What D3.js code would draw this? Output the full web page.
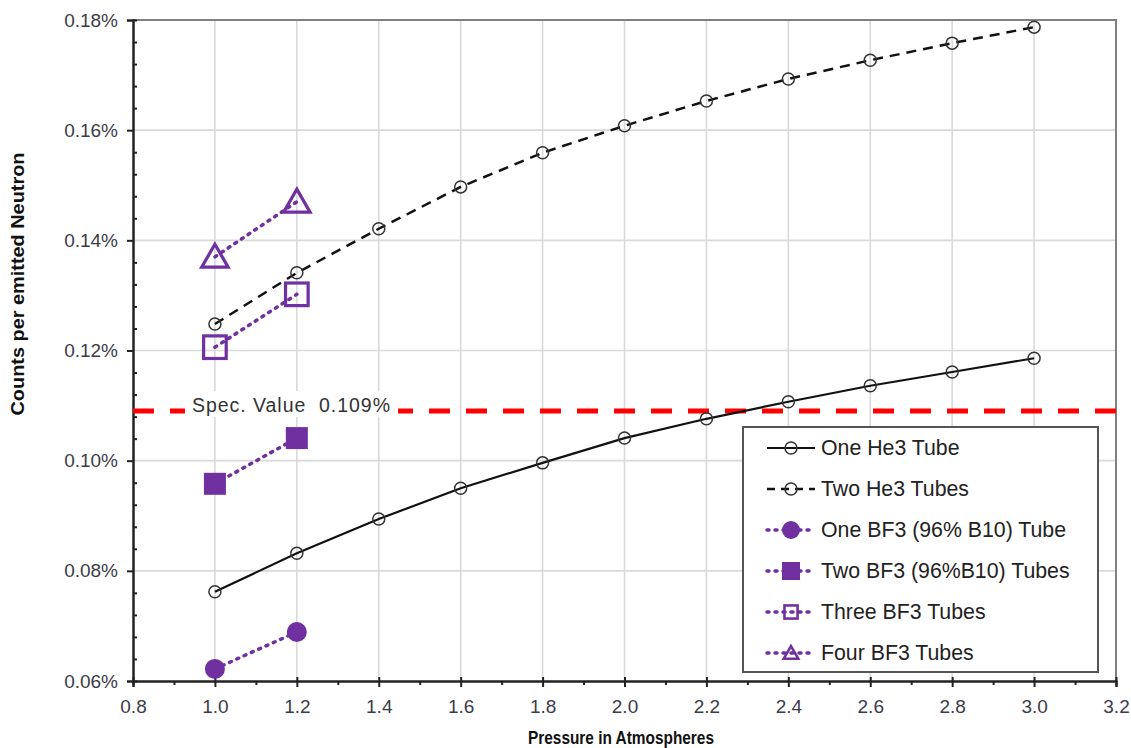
<!DOCTYPE html>
<html>
<head>
<meta charset="utf-8">
<script src="https://cdn.jsdelivr.net/npm/d3@7"></script>
<style>
  html, body { margin: 0; padding: 0; background: #fff; }
  svg { display: block; font-family: "Liberation Sans", Arial, sans-serif; }
</style>
</head>
<body>
<svg id="chart" width="1131" height="748"></svg>
<script>
// Pressure (atm) at which each detector configuration was evaluated
const pressureHe3 = [1.0, 1.2, 1.4, 1.6, 1.8, 2.0, 2.2, 2.4, 2.6, 2.8, 3.0];
const pressureBF3 = [1.0, 1.2];

// Counts per emitted neutron, in percent
const oneHe3  = [0.0762, 0.0832, 0.0894, 0.0950, 0.0996, 0.1041, 0.1076, 0.1107, 0.1136, 0.1161, 0.1186];
const twoHe3  = [0.1248, 0.1341, 0.1421, 0.1497, 0.1559, 0.1608, 0.1653, 0.1693, 0.1727, 0.1758, 0.1787];
const oneBF3  = [0.0622, 0.0689];
const twoBF3  = [0.0958, 0.1041];
const threeBF3 = [0.1206, 0.1302];
const fourBF3 = [0.1370, 0.1470];

const specValue = 0.109;

const xTicks = [0.8, 1.0, 1.2, 1.4, 1.6, 1.8, 2.0, 2.2, 2.4, 2.6, 2.8, 3.0, 3.2];
const yTicks = [0.06, 0.08, 0.10, 0.12, 0.14, 0.16, 0.18];

const legendLabels = [
  "One He3 Tube",
  "Two He3 Tubes",
  "One BF3 (96% B10) Tube",
  "Two BF3 (96%B10) Tubes",
  "Three BF3 Tubes",
  "Four BF3 Tubes"
];

const purple = "#7030a0";
const svg = d3.select("#chart");
const plotL = 133, plotR = 1116, plotT = 20, plotB = 681;

const x = d3.scaleLinear().domain([0.8, 3.2]).range([plotL, plotR]);
const y = d3.scaleLinear().domain([0.06, 0.18]).range([plotB, plotT]);

// grid
const grid = svg.append("g").attr("stroke", "#d9d9d9").attr("stroke-width", 1.6);
grid.selectAll("line.v").data(xTicks.slice(1, -1)).join("line")
  .attr("x1", d => x(d)).attr("x2", d => x(d)).attr("y1", plotT).attr("y2", plotB);
grid.selectAll("line.h").data(yTicks.slice(1, -1)).join("line")
  .attr("x1", plotL).attr("x2", plotR).attr("y1", d => y(d)).attr("y2", d => y(d));

// frame: top and right edges
svg.append("path")
  .attr("d", `M${plotL},${plotT}H${plotR}V${plotB}`)
  .attr("fill", "none").attr("stroke", "#808080").attr("stroke-width", 2);

// axes
const fmtX = d3.format(".1f");
const xAxis = d3.axisBottom(x).tickValues(xTicks).tickSize(6).tickFormat(fmtX).tickPadding(13);
const xMinor = d3.axisBottom(x).tickValues(d3.range(0.9, 3.2, 0.2)).tickSize(4).tickFormat("");
const yAxis = d3.axisLeft(y).tickValues(yTicks).tickSize(6).tickFormat(d => d.toFixed(2) + "%").tickPadding(9);
const yMinorVals = [];
for (let i = 0; i < yTicks.length - 1; i++) for (let k = 1; k < 5; k++) yMinorVals.push(yTicks[i] + k * 0.004);
const yMinor = d3.axisRight(y).tickValues(yMinorVals).tickSize(4).tickFormat("");

function styleAxis(g) {
  g.select(".domain").attr("stroke", "#222").attr("stroke-width", 2);
  g.selectAll(".tick line").attr("stroke", "#222").attr("stroke-width", 2);
  g.selectAll("text").attr("fill", "#3c3c48").attr("font-size", 19).attr("font-family", "Liberation Sans, Arial, sans-serif");
}
svg.append("g").attr("transform", `translate(0,${plotB})`).call(xMinor).call(styleAxis);
svg.append("g").attr("transform", `translate(0,${plotB})`).call(xAxis).call(styleAxis)
  .selectAll(".tick line").attr("y1", -4).attr("y2", 6);
svg.append("g").attr("transform", `translate(${plotL},0)`).call(yMinor).call(styleAxis);
svg.append("g").attr("transform", `translate(${plotL},0)`).call(yAxis).call(styleAxis);

// axis titles
svg.append("text").attr("x", 621).attr("y", 744)
  .attr("text-anchor", "middle").attr("font-weight", "bold").attr("font-size", 18).attr("fill", "#111")
  .attr("textLength", 186).attr("lengthAdjust", "spacingAndGlyphs")
  .text("Pressure in Atmospheres");
svg.append("text").attr("transform", `translate(24,284) rotate(-90)`)
  .attr("text-anchor", "middle").attr("font-weight", "bold").attr("font-size", 19).attr("fill", "#111")
  .attr("textLength", 263).attr("lengthAdjust", "spacingAndGlyphs")
  .text("Counts per emitted Neutron");

// spec limit line
svg.append("line")
  .attr("x1", plotL).attr("x2", plotR).attr("y1", y(specValue)).attr("y2", y(specValue))
  .attr("stroke", "#ff0000").attr("stroke-width", 5).attr("stroke-dasharray", "21,16");
const specLabel = svg.append("g");
specLabel.append("rect").attr("x", 185).attr("y", y(specValue) - 20).attr("width", 213).attr("height", 26).attr("fill", "#fff");
specLabel.append("text").attr("x", 192).attr("y", y(specValue) + 1)
  .attr("font-size", 19.5).attr("fill", "#333")
  .attr("textLength", 198).attr("lengthAdjust", "spacing")
  .attr("xml:space", "preserve").style("white-space", "pre")
  .text("Spec. Value  0.109%");

const line = d3.line().x(d => x(d[0])).y(d => y(d[1]));

// series definitions
const series = [
  { xs: pressureHe3, ys: oneHe3, color: "#111", width: 2.2, dash: null, marker: "openCircle", lgScale: 1 },
  { xs: pressureHe3, ys: twoHe3, color: "#111", width: 2.5, dash: "10,7", marker: "openCircle", lgScale: 1 },
  { xs: pressureBF3, ys: oneBF3, color: purple, width: 3.5, dash: "2,6", marker: "filledCircle", lgScale: 0.9 },
  { xs: pressureBF3, ys: twoBF3, color: purple, width: 3.5, dash: "2,6", marker: "filledSquare", lgScale: 0.82 },
  { xs: pressureBF3, ys: threeBF3, color: purple, width: 3.5, dash: "2,6", marker: "openSquare", lgScale: 0.58 },
  { xs: pressureBF3, ys: fourBF3, color: purple, width: 3.5, dash: "2,6", marker: "openTriangle", lgScale: 0.55 }
];

function drawMarker(g, type, cx, cy, color, scale) {
  const s = scale || 1;
  if (type === "openCircle") {
    g.append("circle").attr("cx", cx).attr("cy", cy).attr("r", 6 * s)
      .attr("fill", "none").attr("stroke", "#333").attr("stroke-width", 1.5);
  } else if (type === "filledCircle") {
    g.append("circle").attr("cx", cx).attr("cy", cy).attr("r", 10 * s).attr("fill", color);
  } else if (type === "filledSquare") {
    const h = 11 * s;
    g.append("rect").attr("x", cx - h).attr("y", cy - h).attr("width", 2 * h).attr("height", 2 * h).attr("fill", color);
  } else if (type === "openSquare") {
    const h = 11.3 * s;
    g.append("rect").attr("x", cx - h).attr("y", cy - h).attr("width", 2 * h).attr("height", 2 * h)
      .attr("fill", "none").attr("stroke", color).attr("stroke-width", 3.2 * Math.max(s, 0.8));
  } else if (type === "openTriangle") {
    const h = 11.5 * s;
    g.append("path")
      .attr("d", `M${cx},${cy - h * 1.1}L${cx + h * 1.15},${cy + h * 0.9}L${cx - h * 1.15},${cy + h * 0.9}Z`)
      .attr("fill", "none").attr("stroke", color).attr("stroke-width", 3.2 * Math.max(s, 0.8)).attr("stroke-linejoin", "miter");
  }
}

const plot = svg.append("g");
series.forEach(s => {
  const pts = s.xs.map((v, i) => [v, s.ys[i]]);
  plot.append("path").attr("d", line(pts)).attr("fill", "none")
    .attr("stroke", s.color).attr("stroke-width", s.width)
    .attr("stroke-dasharray", s.dash).attr("stroke-linecap", s.dash === "2,6" ? "round" : "butt");
  pts.forEach(p => drawMarker(plot, s.marker, x(p[0]), y(p[1]), s.color, 1));
});

// legend
const lg = svg.append("g");
lg.append("rect").attr("x", 743).attr("y", 427).attr("width", 355).attr("height", 245)
  .attr("fill", "#fff").attr("stroke", "#555").attr("stroke-width", 2);
series.forEach((s, i) => {
  const cy = 448 + i * 41;
  lg.append("line").attr("x1", 767).attr("x2", 815).attr("y1", cy).attr("y2", cy)
    .attr("stroke", s.color).attr("stroke-width", s.width)
    .attr("stroke-dasharray", s.dash === "10,7" ? "8,6" : s.dash)
    .attr("stroke-linecap", s.dash === "2,6" ? "round" : "butt");
  drawMarker(lg, s.marker, 791, cy, s.color, s.lgScale);
  lg.append("text").attr("x", 821).attr("y", cy + 7).attr("font-size", 21.3).attr("fill", "#222")
    .text(legendLabels[i]);
});
</script>
</body>
</html>
